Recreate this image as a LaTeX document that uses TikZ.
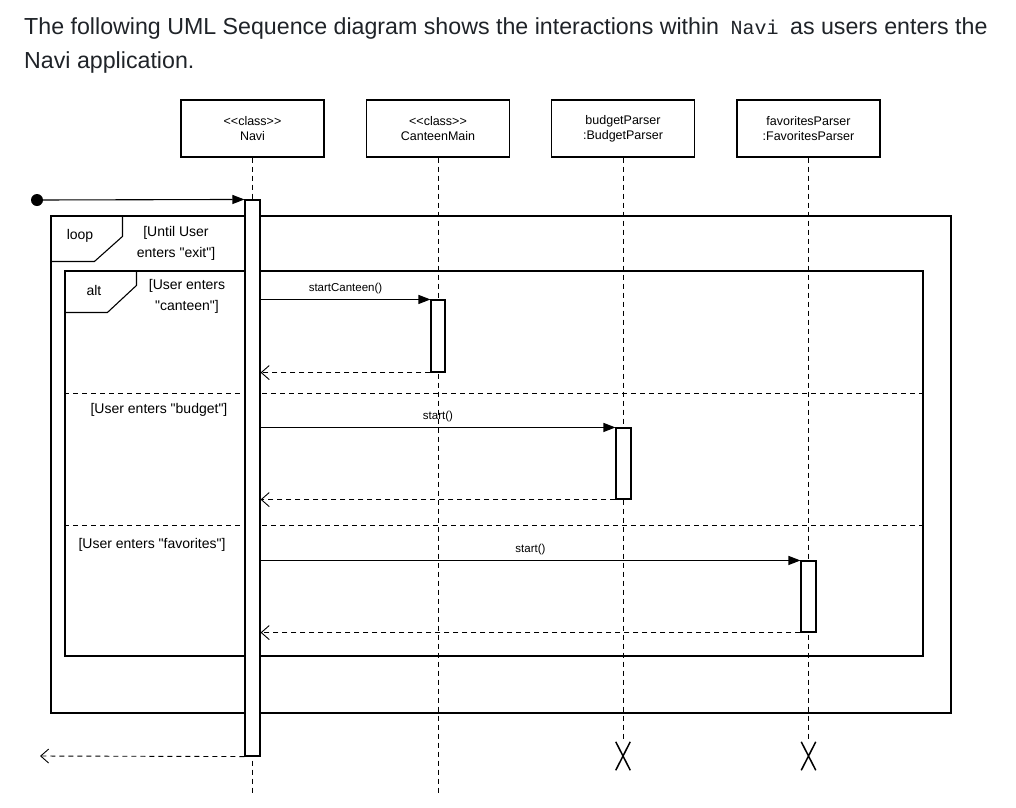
\documentclass[tikz,border=0pt]{standalone}
\usepackage{fontspec}
\newfontfamily\diagfont{Liberation Sans}
\newfontfamily\codefont{Liberation Mono}
\usetikzlibrary{arrows.meta, calc, positioning, shapes.misc}
\definecolor{headtext}{HTML}{1F2328}

\begin{document}
\begin{tikzpicture}[x=1pt, y=-1pt, >=latex,
  classbox/.style={draw, line width=1.1pt, minimum width=143pt, minimum height=57pt, inner sep=0pt, align=center, font=\diagfont\fontsize{12.5}{15}\selectfont},
  lifeline/.style={line width=0.9pt, dash pattern=on 5pt off 4pt},
  actbar/.style={draw, fill=white, line width=1.1pt, minimum width=15pt, inner sep=0pt},
  frame/.style={draw, line width=1.1pt, inner sep=0pt},
  guard/.style={align=center, font=\diagfont\fontsize{14}{21}\selectfont},
  msg/.style={-{Triangle[length=12pt, width=9pt]}, line width=1.1pt},
  reply/.style={-{Straight Barb[length=8pt, width=14pt]}, line width=0.9pt, dash pattern=on 5pt off 4pt},
  msglabel/.style={above, inner sep=5pt, font=\diagfont\fontsize{11.5}{13}\selectfont},
  destroy/.style={cross out, draw, line width=1.5pt, minimum width=13pt, minimum height=27pt, inner sep=0pt}]
  \useasboundingbox (0,0) rectangle (1016,807);

  % Intro text
  \node[anchor=base west, inner sep=0pt, text=headtext, font=\diagfont\fontsize{23.2}{27}\selectfont] (intro1) at (24,34)
    {The following UML Sequence diagram shows the interactions within\hspace{5pt} {\codefont\fontsize{20}{22}\selectfont Navi}\hspace{5pt} as users enters the};
  \node[anchor=base west, inner sep=0pt, text=headtext, font=\diagfont\fontsize{23.2}{27}\selectfont] (intro2) at (24,68)
    {Navi application.};

  % Participants
  \node[classbox] (navi) at (252.5,128.5) {{<}{<}class{>}{>}\\Navi};
  \node[classbox] (canteen) at (438,128.5) {{<}{<}class{>}{>}\\CanteenMain};
  \node[classbox] (budget) at (623,128.5) {budgetParser\\:BudgetParser};
  \node[classbox] (favorites) at (808.5,128.5) {favoritesParser\\:FavoritesParser};

  \node[destroy] (budX) at (623,756) {};
  \node[destroy] (favX) at (808.5,756) {};
  \coordinate (naviEnd) at (252.5,795);
  \coordinate (canteenEnd) at (438,795);

  % Lifelines
  \draw[lifeline] (navi.south) -- (naviEnd);
  \draw[lifeline] (canteen.south) -- (canteenEnd);
  \draw[lifeline] (budget.south) -- (budX.north);
  \draw[lifeline] (favorites.south) -- (favX.north);

  % Combined fragments
  \node[frame, minimum width=900pt, minimum height=497pt] (loopFrame) at (501,464.5) {};
  \draw[line width=1.1pt] (loopFrame.north west) ++(0,46) -- ++(44,0) -- ++(28,-25) -- ++(0,-21);
  \node at (80,236) [font=\diagfont\fontsize{14}{15}\selectfont] (loopTag) {loop};
  \node[guard] (loopGuard) at (176,243) {[Until User\\enters "exit"]};

  \node[frame, minimum width=858pt, minimum height=385pt] (altFrame) at (494,463.5) {};
  \draw[line width=1.1pt] (altFrame.north west) ++(0,42) -- ++(43,0) -- ++(29,-27) -- ++(0,-15);
  \node at (94,290) [font=\diagfont\fontsize{14}{15}\selectfont] (altTag) {alt};
  \node[guard] (canteenGuard) at (187,296) {[User enters\\"canteen"]};

  \draw[lifeline] (altFrame.west |- 0,393) -- (altFrame.east |- 0,393);
  \node[guard] (budgetGuard) at (159,410) {[User enters "budget"]};
  \draw[lifeline] (altFrame.west |- 0,525) -- (altFrame.east |- 0,525);
  \node[guard] (favoritesGuard) at (152,545) {[User enters "favorites"]};

  % Activations
  \node[actbar, minimum height=556pt] (naviAct) at (252.5,478) {};
  \node[actbar, minimum width=14pt, minimum height=72pt] (canteenAct) at (438,336) {};
  \node[actbar, minimum height=71pt] (budgetAct) at (623.5,463.5) {};
  \node[actbar, minimum height=71pt] (favoritesAct) at (808.5,596.5) {};

  \node[circle, fill, minimum size=12pt, inner sep=0pt] (entry) at (37,200) {};
  \coordinate (leave) at (40,756);

  % Calls
  \draw[msg] (entry) -- (naviAct.north west);
  \draw[msg] (naviAct.east |- canteenAct.north) -- node[msglabel] {startCanteen()} (canteenAct.north west);
  \draw[msg] (naviAct.east |- budgetAct.north) -- node[msglabel] {start()} (budgetAct.north west);
  \draw[msg] (naviAct.east |- favoritesAct.north) -- node[msglabel] {start()} (favoritesAct.north west);

  % Returns
  \draw[reply] (canteenAct.south west) -- (naviAct.east |- canteenAct.south);
  \draw[reply] (budgetAct.south west) -- (naviAct.east |- budgetAct.south);
  \draw[reply] (favoritesAct.south west) -- (naviAct.east |- favoritesAct.south);
  \draw[reply] (naviAct.south west) -- (leave);
\end{tikzpicture}
\end{document}
